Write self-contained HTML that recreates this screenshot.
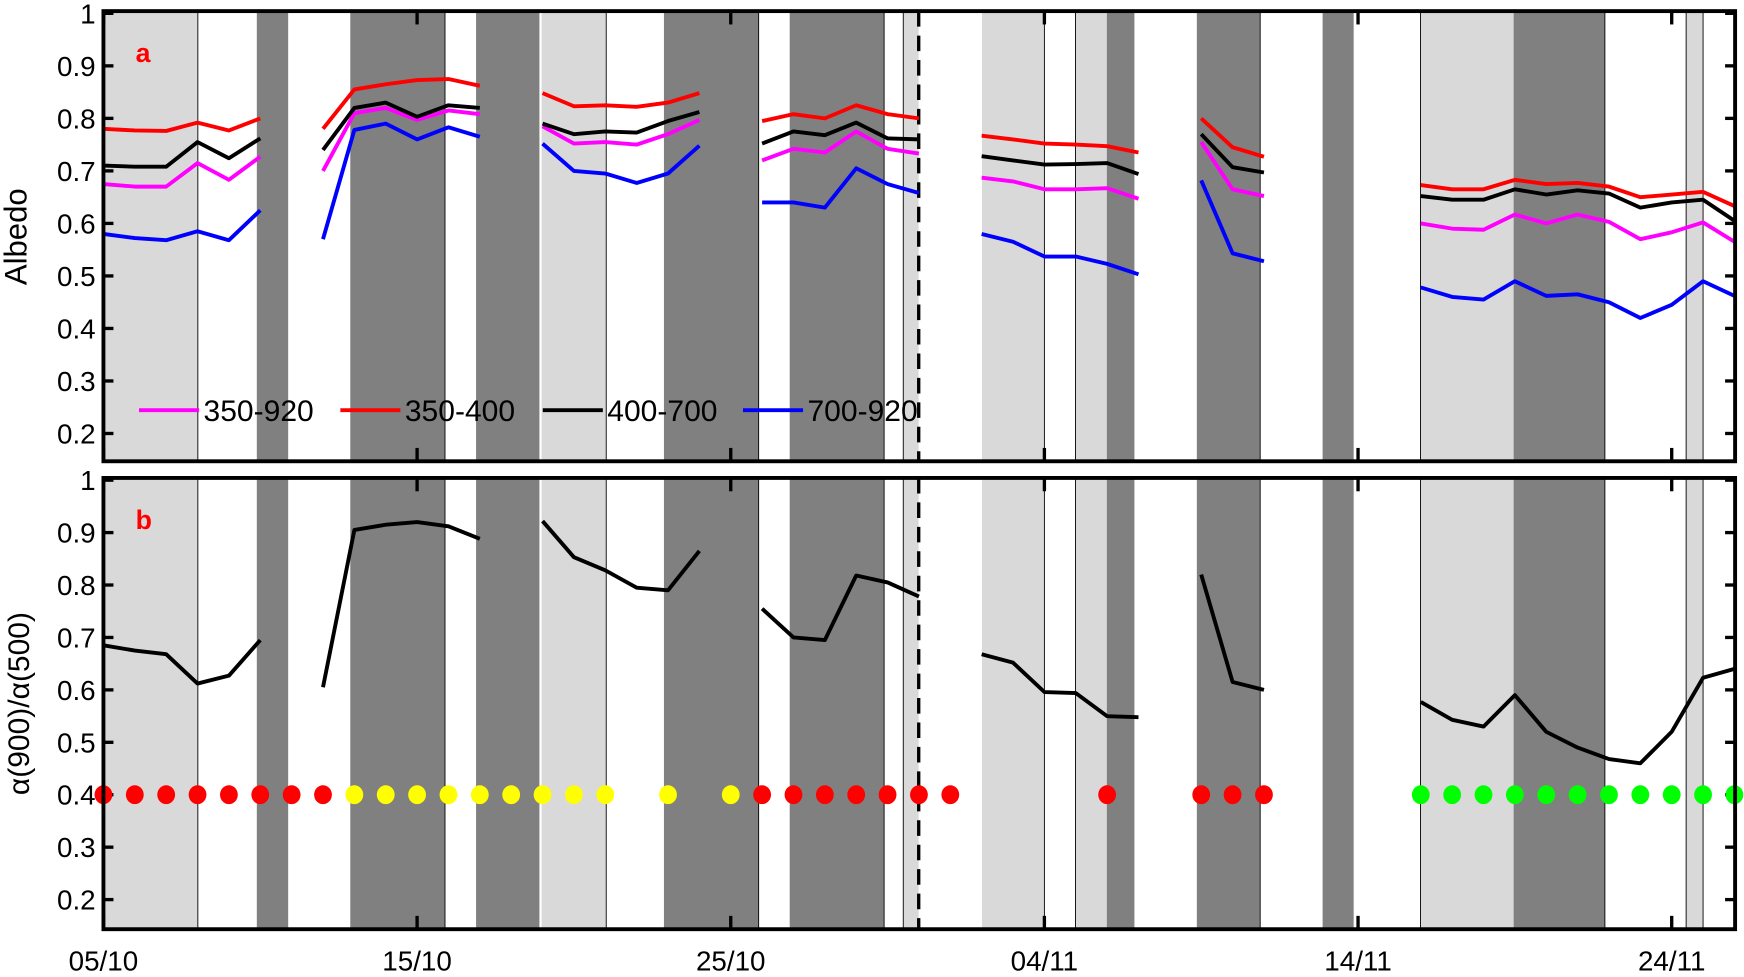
<!DOCTYPE html>
<html><head><meta charset="utf-8"><style>
html,body{margin:0;padding:0;background:#fff;}
svg{display:block;font-family:"Liberation Sans",Arial,sans-serif;}
</style></head><body>
<svg id="chart" width="1744" height="977" viewBox="0 0 1568 879" preserveAspectRatio="none" xmlns="http://www.w3.org/2000/svg"></svg>
<script>
const days = Array.from({length:53},(_,i)=>i);
const N=null;
const red350_400=[.78,.777,.776,.792,.777,.80,N,.78,.855,.865,.873,.875,.862,N,.848,.823,.825,.822,.83,.848,N,.795,.808,.80,.825,.808,.80,N,.767,.76,.752,.75,.747,.735,N,.80,.745,.727,N,N,N,N,.673,.665,.665,.683,.675,.677,.67,.65,.655,.66,.633];
const black400_700=[.71,.708,.708,.755,.724,.762,N,.74,.82,.83,.803,.825,.82,N,.79,.77,.775,.773,.795,.812,N,.752,.775,.768,.792,.762,.76,N,.728,.72,.712,.713,.715,.694,N,.77,.707,.697,N,N,N,N,.652,.645,.645,.665,.655,.663,.657,.63,.64,.645,.605];
const mag350_920=[.675,.67,.67,.715,.683,.727,N,.70,.81,.82,.797,.815,.808,N,.785,.752,.755,.75,.77,.797,N,.72,.742,.735,.775,.742,.733,N,.687,.68,.665,.665,.667,.647,N,.755,.665,.652,N,N,N,N,.60,.59,.588,.617,.60,.617,.603,.57,.583,.602,.565];
const blue700_920=[.58,.572,.568,.585,.568,.625,N,.57,.778,.79,.76,.783,.765,N,.752,.70,.695,.677,.695,.748,N,.64,.64,.63,.705,.675,.658,N,.58,.565,.537,.537,.523,.503,N,.682,.543,.528,N,N,N,N,.478,.46,.455,.49,.462,.465,.45,.42,.445,.49,.462];
const ratio=[.685,.675,.668,.612,.627,.695,N,.605,.905,.915,.92,.912,.888,N,.922,.853,.828,.795,.79,.865,N,.755,.70,.695,.818,.805,.778,N,.668,.652,.596,.594,.55,.548,N,.82,.615,.60,N,N,N,N,.577,.543,.53,.59,.52,.49,.468,.46,.52,.623,.64];
const dotColors=['r','r','r','r','r','r','r','r','y','y','y','y','y','y','y','y','y',N,'y',N,'y','r','r','r','r','r','r','r',N,N,N,N,'r',N,N,'r','r','r',N,N,N,N,'g','g','g','g','g','g','g','g','g','g','g'];
const dateLabels=['05/10','15/10','25/10','04/11','14/11','24/11'];
const dateDays=[0,10,20,30,40,50];
const yTicks=[0.2,0.3,0.4,0.5,0.6,0.7,0.8,0.9,1];
const bandStart=[0,4.89,7.87,11.88,13.97,17.87,21.88,25.5,28.01,30.99,31.99,34.86,38.87,41.99,44.96,50.46];
const bandEnd=[3.01,5.89,10.89,13.9,16.03,20.89,24.89,25.99,30.0,31.99,32.87,36.88,39.86,44.96,47.87,51.0];
const bandType=['l','d','d','d','l','d','d','l','l','l','d','d','d','l','d','l'];
const extraLines=[3.01,10.89,16.03,20.89,24.89,25.5,30.0,30.99,36.88,41.99,47.87,50.46,51.0];

const svg=document.getElementById('chart');
const NS='http://www.w3.org/2000/svg';
function mk(tag,attrs,parent){const e=document.createElementNS(NS,tag);for(const k in attrs)e.setAttribute(k,attrs[k]);(parent||svg).appendChild(e);return e;}
const X0=93,X1=1560,PX=28.2;
const xs=d=>X0+d*PX;
const panels=[{top:10,bot:415,y1:12,k:472.5,name:'panel-a'},{top:430,bot:836,y1:432,k:471.7,name:'panel-b'}];
const ys=(p,v)=>p.y1+(1-v)*p.k;
const colMap={r:'#ff0000',y:'#ffff00',g:'#00ff00'};

panels.forEach((p,pi)=>{
  const g=mk('g',{});
  
  
  bandStart.forEach((s,i)=>{
    const r=mk('rect',{x:xs(s),y:p.top,width:xs(bandEnd[i])-xs(s),height:p.bot-p.top,fill:bandType[i]==='d'?'#808080':'#d9d9d9'},g);
    
    
  });
  extraLines.forEach(d=>mk('line',{x1:xs(d),x2:xs(d),y1:p.top,y2:p.bot,stroke:'#000','stroke-width':0.8},g));
  yTicks.forEach(v=>{
    const y=ys(p,v);
    mk('line',{x1:X0,x2:X0+9,y1:y,y2:y,stroke:'#000','stroke-width':3},g);
    mk('line',{x1:X1-9,x2:X1,y1:y,y2:y,stroke:'#000','stroke-width':3},g);
    const t=mk('text',{x:86,y:y+9,'text-anchor':'end','font-size':25,fill:'#000'},g);
    t.textContent=(v===1?'1':v.toFixed(1));
    
    
  });
  dateDays.forEach(d=>{
    mk('line',{x1:xs(d),x2:xs(d),y1:p.top,y2:p.top+12,stroke:'#000','stroke-width':3},g);
    mk('line',{x1:xs(d),x2:xs(d),y1:p.bot-12,y2:p.bot,stroke:'#000','stroke-width':3},g);
  });
  const dl=mk('line',{x1:826,x2:826,y1:p.top,y2:p.bot,stroke:'#000','stroke-width':3,'stroke-dasharray':'14,8'},g);
  
  
});

function drawSeries(p,vals,color,name){
  let d='',pen=false;
  vals.forEach((v,i)=>{
    if(v===null){pen=false;return;}
    d+=(pen?'L':'M')+xs(days[i]).toFixed(1)+','+ys(p,v).toFixed(1);pen=true;
  });
  const e=mk('path',{d:d,fill:'none',stroke:color,'stroke-width':3.5,'stroke-linejoin':'round'});
  
  
}
const pa=panels[0],pb=panels[1];
drawSeries(pa,mag350_920,'#ff00ff','line-350-920');
drawSeries(pa,blue700_920,'#0000ff','line-700-920');
drawSeries(pa,black400_700,'#000','line-400-700');
drawSeries(pa,red350_400,'#ff0000','line-350-400');
drawSeries(pb,ratio,'#000','line-ratio');
dotColors.forEach((c,i)=>{
  if(c===null)return;
  const e=mk('ellipse',{cx:xs(days[i]),cy:ys(pb,0.4),rx:8,ry:8.5,fill:colMap[c]});
  
  
});
panels.forEach(p=>{
  const f=mk('rect',{x:X0,y:p.top,width:X1-X0,height:p.bot-p.top,fill:'none',stroke:'#000','stroke-width':3.5});
  
  
});
const legNames=['350-920','350-400','400-700','700-920'];
const legColors=['#ff00ff','#ff0000','#000','#0000ff'];
const legX=[125,306,488,668];
legNames.forEach((n,i)=>{
  const g=mk('g',{});
  
  
  mk('line',{x1:legX[i],x2:legX[i]+54,y1:369,y2:369,stroke:legColors[i],'stroke-width':3.5},g);
  const t=mk('text',{x:legX[i]+58,y:379,'font-size':27,fill:'#000'},g);
  t.textContent=n;
});
dateLabels.forEach((l,i)=>{
  const t=mk('text',{x:xs(dateDays[i]),y:873,'text-anchor':'middle','font-size':25,fill:'#000'});
  t.textContent=l;
  
  
});
[['a',48],['b',468]].forEach(([l,y])=>{
  const t=mk('text',{x:122,y:y+8,'font-size':24,'font-weight':'bold',fill:'#ff0000'});
  t.textContent=l;
  
  
});
const ya=mk('text',{x:0,y:0,'font-size':28,'text-anchor':'middle',transform:'translate(24,213) rotate(-90)'});
ya.textContent='Albedo';


const yb=mk('text',{x:0,y:0,'font-size':27,'text-anchor':'middle',transform:'translate(26,633) rotate(-90)'});
yb.textContent='α(900)/α(500)';


</script>
</body></html>
